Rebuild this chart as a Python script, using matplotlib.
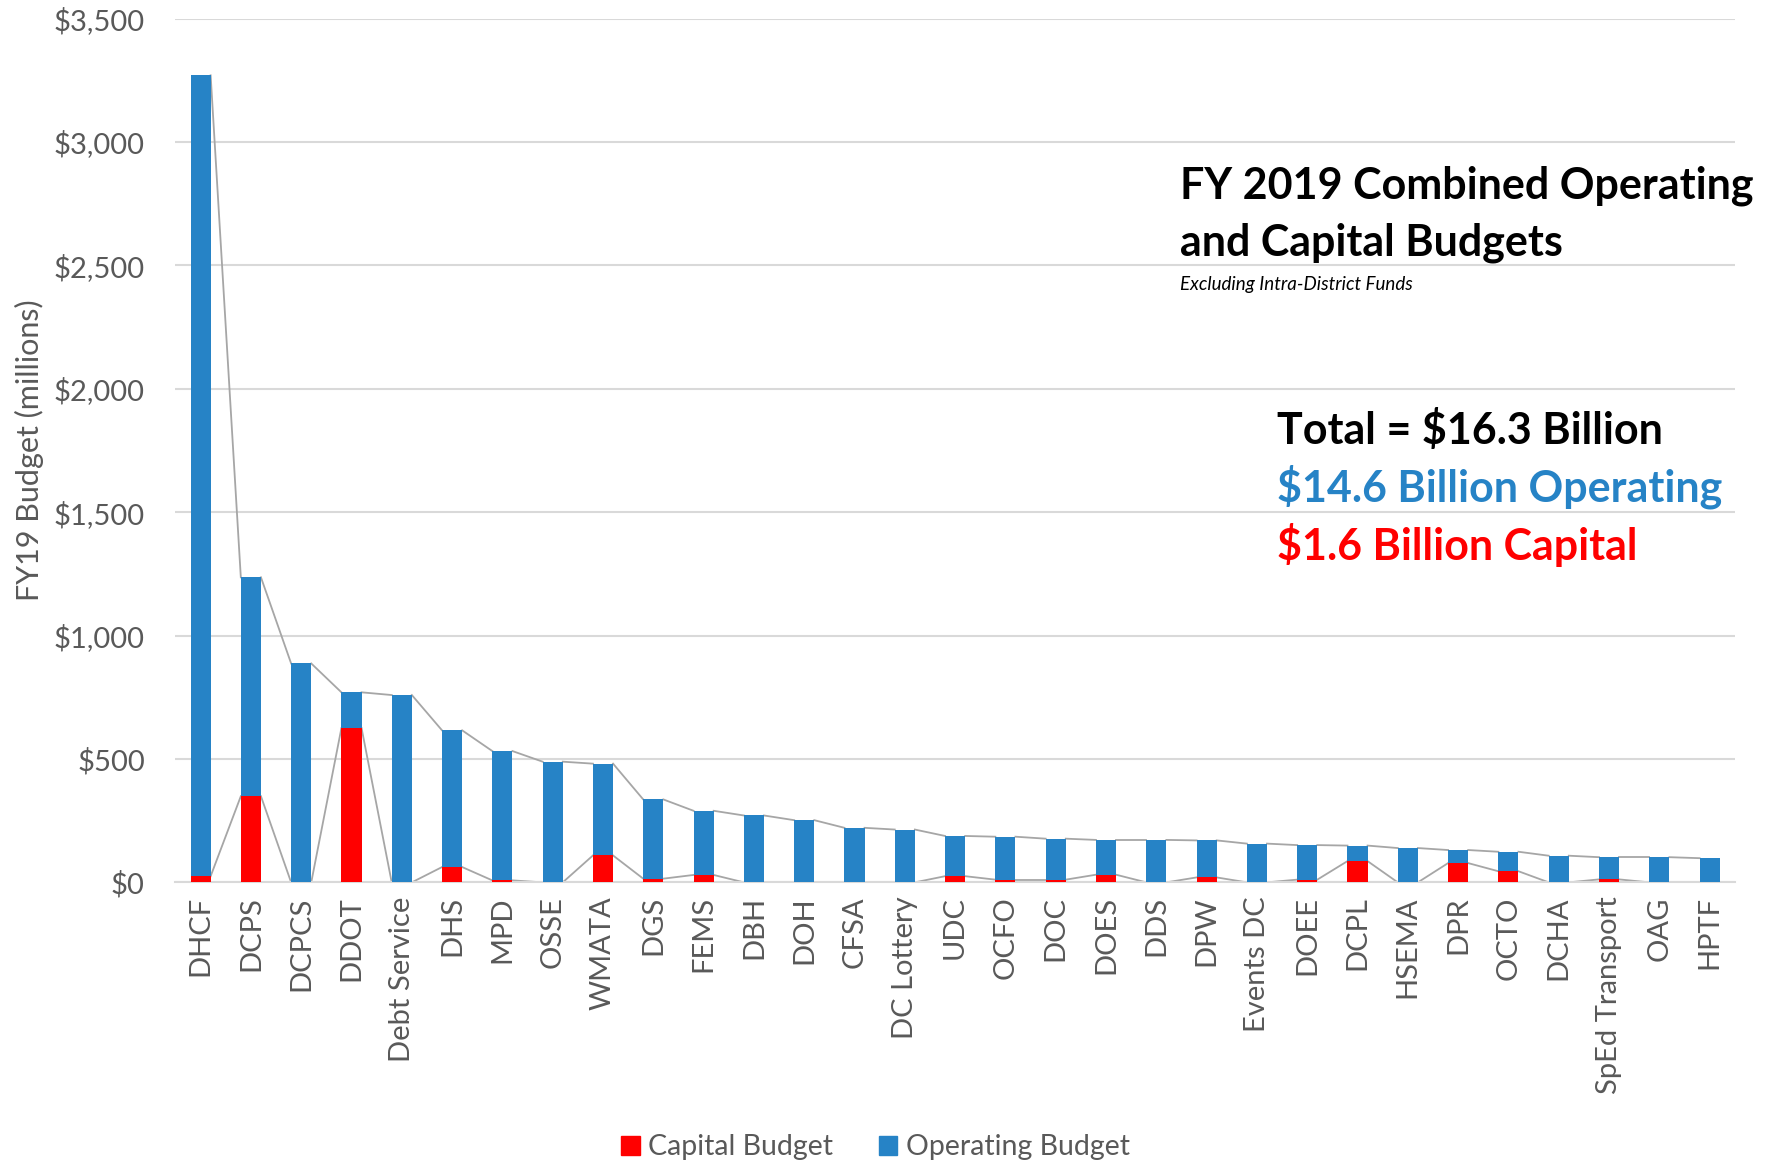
import matplotlib.pyplot as plt
import numpy as np
from matplotlib.ticker import FuncFormatter
from matplotlib.patches import Patch

agencies = ['DHCF', 'DCPS', 'DCPCS', 'DDOT', 'Debt Service', 'DHS', 'MPD', 'OSSE',
            'WMATA', 'DGS', 'FEMS', 'DBH', 'DOH', 'CFSA', 'DC Lottery', 'UDC', 'OCFO',
            'DOC', 'DOES', 'DDS', 'DPW', 'Events DC', 'DOEE', 'DCPL', 'HSEMA', 'DPR',
            'OCTO', 'DCHA', 'SpEd Transport', 'OAG', 'HPTF']
capital = [25, 349, 0, 625, 0, 62, 8, 0, 109, 15, 30, 0, 0, 0, 0, 25, 11,
           11, 31, 0, 20, 0, 11, 86, 0, 78, 45, 0, 12, 0, 0]
operating = [3245, 887, 887, 145, 759, 554, 524, 489, 372, 321, 260, 271, 252, 221, 214, 163, 174,
             166, 141, 172, 150, 157, 140, 63, 139, 53, 79, 108, 90, 102, 98]
y_ticks = [0, 500, 1000, 1500, 2000, 2500, 3000, 3500]

BLUE = '#2683C6'
RED = '#FF0000'
GREY = '#595959'
FONT = ['Lato', 'DejaVu Sans']

plt.rcParams['font.family'] = FONT

fig = plt.figure(figsize=(17.72, 11.61), dpi=100)
ax = fig.add_axes([0.099, 0.240, 0.880, 0.744])

x = np.arange(len(agencies))
width = 0.4
cap = np.array(capital)
opr = np.array(operating)
total = cap + opr

ax.bar(x, cap, width, color=RED, zorder=3)
ax.bar(x, opr, width, bottom=cap, color=BLUE, zorder=3)

# series lines like Excel: right edge of one bar to left edge of next
for tops in (cap, total):
    for i in range(len(x) - 1):
        ax.plot([x[i] + width / 2, x[i + 1] - width / 2], [tops[i], tops[i + 1]],
                color='#A6A6A6', lw=1.3, zorder=2)

ax.set_xlim(-0.5, len(agencies) - 0.5)
ax.set_ylim(0, 3500)
ax.set_yticks(y_ticks)
ax.yaxis.set_major_formatter(FuncFormatter(lambda v, p: '${:,.0f}'.format(v)))
ax.grid(axis='y', color='#D9D9D9', lw=1.5, zorder=0)
ax.set_axisbelow(True)
for s in ['top', 'right', 'left']:
    ax.spines[s].set_visible(False)
ax.spines['bottom'].set_color('#D9D9D9')
ax.spines['bottom'].set_linewidth(1.5)
ax.tick_params(axis='x', length=0, labelsize=21, colors=GREY, pad=10)
ax.tick_params(axis='y', length=0, labelsize=21, colors=GREY, pad=22)
ax.set_xticks(x)
ax.set_xticklabels(agencies, rotation=90)
ax.set_ylabel('FY19 Budget (millions)', fontsize=22, color=GREY, labelpad=7)

fig.text(0.666, 0.840, 'FY 2019 Combined Operating', fontsize=31, fontweight='bold',
         va='center', ha='left')
fig.text(0.666, 0.791, 'and Capital Budgets', fontsize=31, fontweight='bold',
         va='center', ha='left')
fig.text(0.666, 0.755, 'Excluding Intra-District Funds', fontsize=13.5, style='italic',
         va='center', ha='left')
fig.text(0.7205, 0.630, 'Total = $16.3 Billion', fontsize=31, fontweight='bold',
         va='center', ha='left')
fig.text(0.7205, 0.581, '$14.6 Billion Operating', fontsize=31, fontweight='bold',
         color=BLUE, va='center', ha='left')
fig.text(0.7205, 0.531, '$1.6 Billion Capital', fontsize=31, fontweight='bold',
         color=RED, va='center', ha='left')

handles = [Patch(color=RED, label='Capital Budget'), Patch(color=BLUE, label='Operating Budget')]
fig.legend(handles=handles, loc='center', bbox_to_anchor=(0.494, 0.012), ncol=2,
           frameon=False, fontsize=20.5, handlelength=0.65, handleheight=0.65,
           handletextpad=0.3, columnspacing=1.6, labelcolor=GREY)

fig.savefig('out.png', dpi=100)
